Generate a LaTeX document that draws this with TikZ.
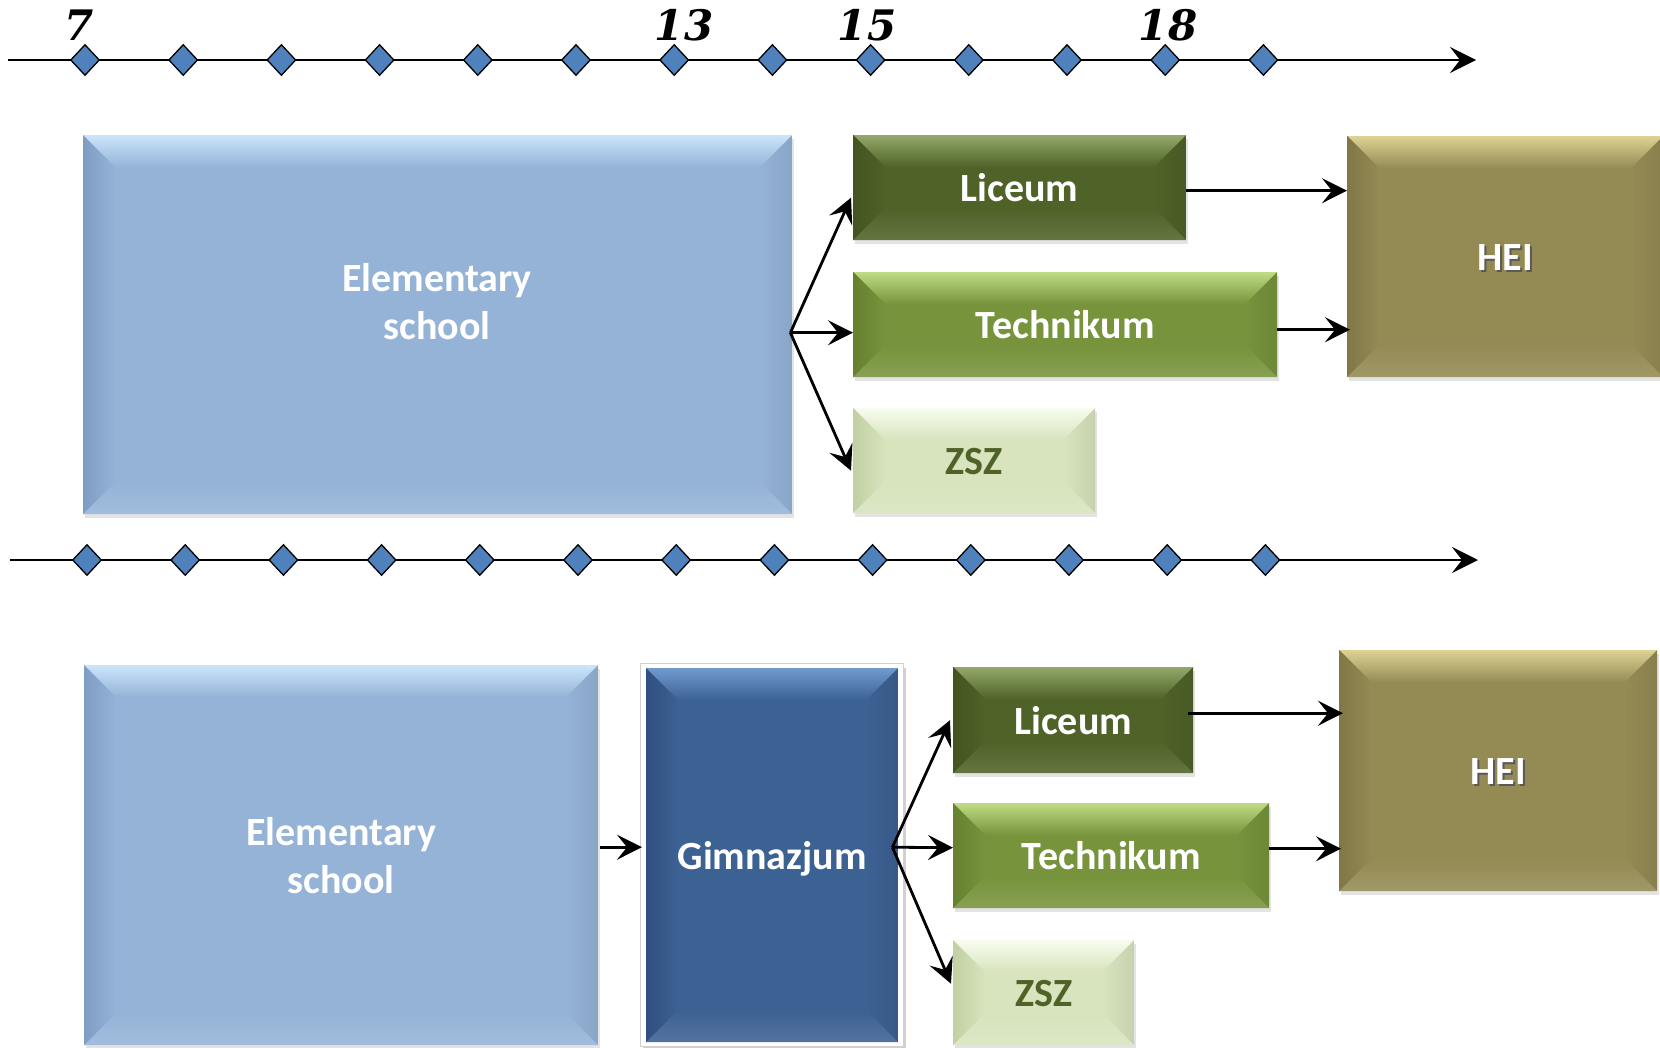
\documentclass[tikz,border=0pt]{standalone}
\usepackage{fontspec}
\newfontfamily\carl{Carlito}
\newfontfamily\numf{DejaVu Serif}
\usetikzlibrary{shapes.geometric,arrows.meta,calc,shadows}
\definecolor{elemC}{HTML}{95B3D7}\definecolor{elemL}{HTML}{CBE5FB}\definecolor{elemD}{HTML}{7F9DC3}
\definecolor{licC}{HTML}{4F6228}\definecolor{licL}{HTML}{93A86A}\definecolor{licD}{HTML}{435421}
\definecolor{techC}{HTML}{77933C}\definecolor{techL}{HTML}{BEDC84}\definecolor{techD}{HTML}{67812F}
\definecolor{zszC}{HTML}{D7E4BD}\definecolor{zszL}{HTML}{F8FCEF}\definecolor{zszD}{HTML}{C1D0A3}
\definecolor{heiC}{HTML}{948A54}\definecolor{heiL}{HTML}{DED394}\definecolor{heiD}{HTML}{817747}
\definecolor{gimC}{HTML}{3C6193}\definecolor{gimL}{HTML}{719ACF}\definecolor{gimD}{HTML}{2F5080}
\definecolor{diaC}{HTML}{4F81BD}
\newcommand\shtxt[1]{\makebox[0pt][l]{\hspace{2pt}\raisebox{-2pt}{\textcolor{black!65}{#1}}}#1}
\tikzset{
  bev/.style n args={3}{fill=#1, path picture={
    \coordinate (pNW) at (path picture bounding box.north west);
    \coordinate (pNE) at (path picture bounding box.north east);
    \coordinate (pSW) at (path picture bounding box.south west);
    \coordinate (pSE) at (path picture bounding box.south east);
    \shade[top color=#2, bottom color=#1] (pNW) -- (pNE) -- ([shift={(-32pt,-32pt)}]pNE) -- ([shift={(32pt,-32pt)}]pNW) -- cycle;
    \shade[left color=#3, right color=#1] (pNW) -- ([shift={(32pt,-32pt)}]pNW) -- ([shift={(32pt,32pt)}]pSW) -- (pSW) -- cycle;
    \shade[left color=#1, right color=#1!92!black] (pNE) -- ([shift={(-32pt,-32pt)}]pNE) -- ([shift={(-32pt,32pt)}]pSE) -- (pSE) -- cycle;
    \shade[top color=#1, bottom color=#1!88!white] (pSW) -- ([shift={(32pt,32pt)}]pSW) -- ([shift={(-32pt,32pt)}]pSE) -- (pSE) -- cycle;
  }},
  box/.style={rectangle, inner sep=0pt, anchor=north west, align=center,
    font=\carl\bfseries\fontsize{40}{48}\selectfont, text=white},
  one/.style={text height=28pt, text depth=0pt},
  shad/.style={drop shadow={shadow xshift=2pt, shadow yshift=-4pt, opacity=0.22}},
  dia/.style={diamond, draw=black, line width=1.3pt, fill=diaC, inner sep=0pt, minimum width=29pt, minimum height=31pt},
  axis/.style={line width=2.8pt, -{Stealth[length=26pt,width=26pt,inset=10pt]}},
  conn/.style={line width=2.8pt, -{Stealth[length=25pt,width=25pt,inset=10pt]}},
  num/.style={anchor=base, font=\numf\bfseries\itshape\fontsize{42}{50}\selectfont, inner sep=0pt}
}
\begin{document}
\begin{tikzpicture}[x=1pt,y=-1pt]
\useasboundingbox (0,0) rectangle (1660,1047);
\clip (0,0) rectangle (1660,1047);
\fill[white] (0,0) rectangle (1660,1047);

% ---------- top axis ----------
\coordinate (ta0) at (8,60);
\coordinate (ta1) at (1476,60);
\draw[axis] (ta0) -- (ta1);
\foreach \k in {0,...,12} { \node[dia] (td\k) at ({85+98.2*\k},60) {}; }
\node[num] (n7)  at (79,40)   {7};
\node[num] (n13) at (684,40)  {13};
\node[num] (n15) at (867,40)  {15};
\node[num] (n18) at (1168,40) {18};

% ---------- top section ----------
\node[box, shad, bev={elemC}{elemL}{elemD}, minimum width=709pt, minimum height=379pt] (elemT) at (83,135) {};
\node[box, anchor=north] (elemTtxt) at (437,263) {Elementary\\school};
\node[box, one, shad, bev={licC}{licL}{licD}, minimum width=333pt, minimum height=105pt] (licT) at (853,135) {Liceum};
\node[box, one, shad, bev={techC}{techL}{techD}, minimum width=424pt, minimum height=105pt] (techT) at (853,272) {Technikum};
\node[box, one, shad, bev={zszC}{zszL}{zszD}, minimum width=242pt, minimum height=105pt, text=licC] (zszT) at (853,408) {ZSZ};
\node[box, one, shad, bev={heiC}{heiL}{heiD}, minimum width=316pt, minimum height=241pt] (heiT) at (1347,136) {\shtxt{HEI}};

\coordinate (forkT) at ($(elemT.east)+(-2,8)$);
\draw[conn] (forkT) -- ($(licT.west)+(-2,10)$);
\draw[conn] (forkT) -- ($(techT.west)+(0,8)$);
\draw[conn] (forkT) -- ($(zszT.west)+(-2,10)$);
\draw[conn] ($(licT.east)+(0,3)$) -- ($(heiT.west |- licT.east)+(0,3)$);
\draw[conn] ($(techT.east)+(0,5)$) -- ($(heiT.west |- techT.east)+(3,5)$);

% ---------- bottom axis ----------
\coordinate (ba0) at (10,560);
\coordinate (ba1) at (1478,560);
\draw[axis] (ba0) -- (ba1);
\foreach \k in {0,...,12} { \node[dia] (bd\k) at ({87+98.2*\k},560) {}; }

% ---------- bottom section ----------
\node[box, shad, bev={elemC}{elemL}{elemD}, minimum width=514pt, minimum height=380pt] (elemB) at (84,665) {Elementary\\school};
\fill[black, opacity=0.18] (643,668) rectangle (906,1050);
\draw[fill=white, draw=black!18, line width=1pt] (640,663) rectangle (903,1046);
\node[box, one, bev={gimC}{gimL}{gimD}, minimum width=252pt, minimum height=374pt] (gim) at (646,668) {Gimnazjum};
\node[box, one, shad, bev={licC}{licL}{licD}, minimum width=240pt, minimum height=106pt] (licB) at (953,667) {Liceum};
\node[box, one, shad, bev={techC}{techL}{techD}, minimum width=316pt, minimum height=105pt] (techB) at (953,803) {Technikum};
\node[box, one, shad, bev={zszC}{zszL}{zszD}, minimum width=181pt, minimum height=105pt, text=licC] (zszB) at (953,940) {ZSZ};
\node[box, one, shad, bev={heiC}{heiL}{heiD}, minimum width=318pt, minimum height=241pt] (heiB) at (1339,650) {\shtxt{HEI}};

\draw[conn] ($(elemB.east)+(2,-8)$) -- ($(gim.west)+(-4,-8)$);
\coordinate (forkB) at ($(gim.east)+(-6,-8)$);
\draw[conn] (forkB) -- ($(licB.west)+(-3,0)$);
\draw[conn] (forkB) -- ($(techB.west)+(0,-8)$);
\draw[conn] (forkB) -- ($(zszB.west)+(-2,-9)$);
\draw[conn] ($(licB.east)+(-5,-7)$) -- ($(heiB.west |- licB.east)+(4,-7)$);
\draw[conn] ($(techB.east)+(0,-7)$) -- ($(heiB.west |- techB.east)+(2,-7)$);
\end{tikzpicture}
\end{document}
